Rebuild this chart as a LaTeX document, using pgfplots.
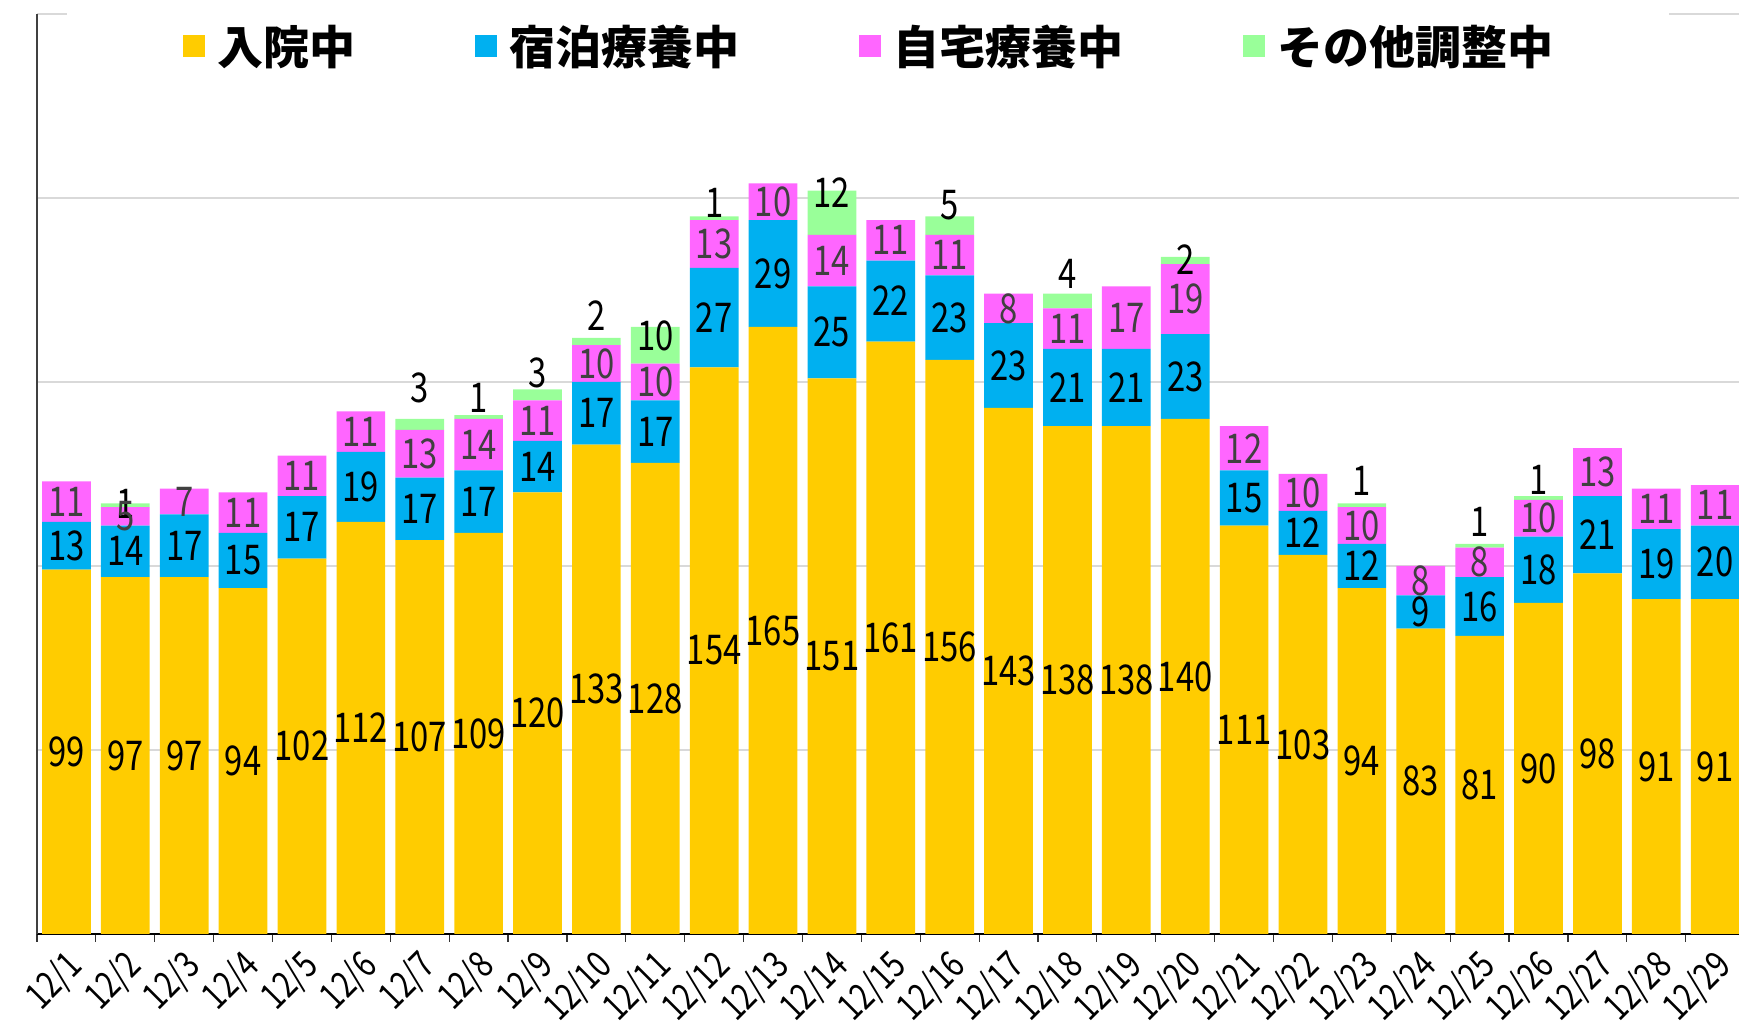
\documentclass[border=0pt]{standalone}
\usepackage{fontspec}
\usepackage{pgfplots}
\usepackage{pgfplotstable}
\pgfplotsset{compat=1.18}
\setmainfont{Noto Sans CJK JP}
\newfontfamily\lblfont{Noto Sans CJK JP}[FakeStretch=0.8]
\newfontfamily\legfont{Noto Sans CJK JP}
\definecolor{cY}{HTML}{FFCC00}
\definecolor{cB}{HTML}{00B0F0}
\definecolor{cM}{HTML}{FF66FF}
\definecolor{cG}{HTML}{99FF99}
\definecolor{lblM}{HTML}{404040}
\definecolor{gridgray}{HTML}{D9D9D9}

\pgfplotstableread{
x a b c d g lab
1 99 13 11 0 0 {}
2 97 14 5 1 0.5 1
3 97 17 7 0 0 {}
4 94 15 11 0 0 {}
5 102 17 11 0 0 {}
6 112 19 11 0 0 {}
7 107 17 13 3 9.9 3
8 109 17 14 1 5.3 1
9 120 14 11 3 6.1 3
10 133 17 10 2 7 2
11 128 17 10 10 2.5 10
12 154 27 13 1 4.1 1
13 165 29 10 0 0 {}
14 151 25 14 12 5.5 12
15 161 22 11 0 0 {}
16 156 23 11 5 5.5 5
17 143 23 8 0 0 {}
18 138 21 11 4 7.3 4
19 138 21 17 0 0 {}
20 140 23 19 2 0.2 2
21 111 15 12 0 0 {}
22 103 12 10 0 0 {}
23 94 12 10 1 6.5 1
24 83 9 8 0 0 {}
25 81 16 8 1 6.5 1
26 90 18 10 1 4.9 1
27 98 21 13 0 0 {}
28 91 19 11 0 0 {}
29 91 20 11 0 0 {}
}\data

\begin{document}
\begin{tikzpicture}
\begin{axis}[
  at={(0,0)}, anchor=south west,
  scale only axis, width=851pt, height=460pt,
  ybar stacked, bar width=0.827,
  xmin=0.5, xmax=29.405, ymin=0, ymax=250,
  enlargelimits=false,
  clip=true,
  axis x line*=bottom, axis y line*=left,
  axis line style={-, line width=0.75pt},
  x axis line style={black},
  y axis line style={black!75},
  xtick={1,...,29},
  xticklabels={12/1,12/2,12/3,12/4,12/5,12/6,12/7,12/8,12/9,12/10,12/11,12/12,12/13,12/14,12/15,12/16,12/17,12/18,12/19,12/20,12/21,12/22,12/23,12/24,12/25,12/26,12/27,12/28,12/29},
  minor xtick={0.5,1.5,...,28.5},
  major tick length=0pt, minor tick length=4pt, tick align=outside,
  minor tick style={black!80, line width=0.6pt},
  ytick={50,100,150,200,250}, yticklabels={},
  ymajorgrids, major grid style={draw=gridgray, line width=0.75pt},
  xticklabel style={font=\lblfont\fontsize{18.5pt}{22pt}\selectfont, xshift=5pt, yshift=-13pt, rotate=45, anchor=east, inner sep=0pt},
  legend columns=4,
  legend style={at={(0.4883,0.9647)}, anchor=center, draw=none, fill=white,
    inner xsep=58pt, inner ysep=8pt,
    font=\legfont\bfseries\fontsize{23pt}{27pt}\selectfont,
    /tikz/every even column/.append style={column sep=60pt},
    /tikz/every odd column/.append style={column sep=6pt},
    nodes={inner sep=0pt}},
  legend image code/.code={\fill[#1] (0pt,-5.5pt) rectangle (11pt,5.5pt);},
]
\addplot[fill=cY, draw=none, point meta=explicit symbolic, nodes near coords,
  nodes near coords style={font=\lblfont\fontsize{20.5pt}{24pt}\selectfont, text=black, anchor=center, inner sep=0pt}]
  table[x=x, y=a, meta=a]{\data};
\addplot[fill=cB, draw=none, point meta=explicit symbolic, nodes near coords,
  nodes near coords style={font=\lblfont\fontsize{20.5pt}{24pt}\selectfont, text=black, anchor=center, inner sep=0pt}]
  table[x=x, y=b, meta=b]{\data};
\addplot[fill=cM, draw=none, point meta=explicit symbolic, nodes near coords,
  nodes near coords style={font=\lblfont\fontsize{20.5pt}{24pt}\selectfont, text=lblM, anchor=center, inner sep=0pt}]
  table[x=x, y=c, meta=c]{\data};
\addplot[fill=cG, draw=none, point meta=explicit symbolic, nodes near coords,
  visualization depends on={\thisrow{g} \as \gv},
  nodes near coords style={font=\lblfont\fontsize{20.5pt}{24pt}\selectfont, text=black, anchor=center, yshift={\gv*1.84pt}, inner sep=0pt}]
  table[x=x, y=d, meta=lab]{\data};
\legend{入院中,宿泊療養中,自宅療養中,その他調整中}
\end{axis}
\pgfresetboundingbox
\path[use as bounding box] (-18.5pt,-46pt) rectangle (851pt,467pt);
\end{tikzpicture}
\end{document}
